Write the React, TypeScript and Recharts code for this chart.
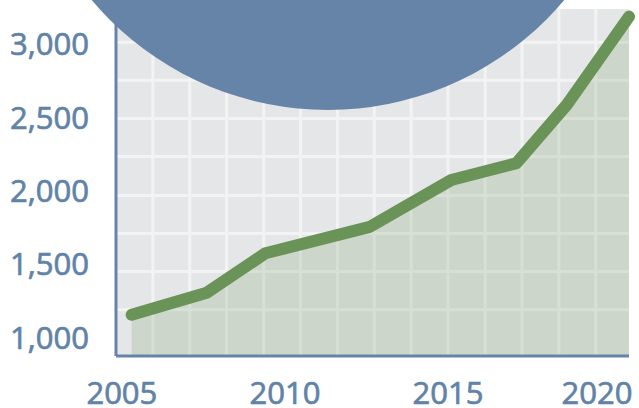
import { AreaChart, Area, XAxis, YAxis, CartesianGrid, ReferenceDot } from "recharts";

const YEARS = [2005.3, 2007.6, 2009.4, 2012.6, 2015.1, 2017.1, 2018.65, 2020.55];
const VALUES = [1155, 1305, 1575, 1755, 2075, 2190, 2590, 3190];

const X_TICKS = [2005, 2010, 2015, 2020];
const Y_TICKS = [1000, 1500, 2000, 2500, 3000];

// decorative grid, not aligned to the ticks
const GRID_X = [2005.95, 2007.08, 2008.21, 2009.35, 2010.48, 2011.61, 2012.74, 2013.87, 2015.0, 2016.14, 2017.27, 2018.4, 2019.53];
const GRID_Y = [1190, 1450, 1710, 1970, 2235, 2495, 2755, 3015];

// big circle behind the title area
const CIRCLE = { year: 2011.32, value: 4662 };

const CHART_W = 639;
const CHART_H = 408;
const BLUE = "#6584a8";
const TEXT_BLUE = "#6183a8";
const GREEN = "#6a9457";
const FONT = "'Open Sans', sans-serif";

const data = YEARS.map((year, i) => ({ year, value: VALUES[i] }));

function XTick(props: any) {
  const { x, y, payload } = props;
  const half = 35;
  const cx = Math.min(x, CHART_W - 7 - half);
  return (
    <text
      x={cx}
      y={y}
      dy="0.71em"
      textAnchor="middle"
      fill={TEXT_BLUE}
      stroke={TEXT_BLUE}
      strokeWidth={0.7}
      fontSize={31}
      fontFamily={FONT}
    >
      {payload.value}
    </text>
  );
}

export default function App() {
  return (
    <div style={{ position: "absolute", left: 0, top: 0 }}>
      <AreaChart width={CHART_W} height={CHART_H} data={data} margin={{ top: 9, right: 10, bottom: 0, left: 0 }}>
        <CartesianGrid
          fill="#e5e6e8"
          stroke="#f3f3f4"
          strokeWidth={3}
          horizontalValues={GRID_Y}
          verticalValues={GRID_X}
        />
        <XAxis
          dataKey="year"
          type="number"
          domain={[2004.82, 2020.55]}
          ticks={X_TICKS}
          height={52}
          tickLine={false}
          tickSize={0}
          tickMargin={26}
          axisLine={{ stroke: BLUE, strokeWidth: 3 }}
          tick={<XTick />}
          interval={0}
        />
        <YAxis
          type="number"
          domain={[874, 3242]}
          ticks={Y_TICKS}
          width={116}
          tickLine={false}
          tickSize={0}
          tickMargin={27}
          axisLine={{ stroke: BLUE, strokeWidth: 3 }}
          tick={{ fill: TEXT_BLUE, stroke: TEXT_BLUE, strokeWidth: 0.7, fontSize: 31, fontFamily: FONT }}
          tickFormatter={(v: number) => v.toLocaleString("en-US")}
          interval={0}
        />
        <Area
          type="linear"
          dataKey="value"
          stroke={GREEN}
          strokeWidth={12}
          strokeLinecap="round"
          strokeLinejoin="round"
          fill={GREEN}
          fillOpacity={0.2}
          dot={false}
          activeDot={false}
          isAnimationActive={false}
        />
        <ReferenceDot
          x={CIRCLE.year}
          y={CIRCLE.value}
          r={309}
          fill={BLUE}
          stroke="none"
          ifOverflow="visible"
        />
      </AreaChart>
    </div>
  );
}
